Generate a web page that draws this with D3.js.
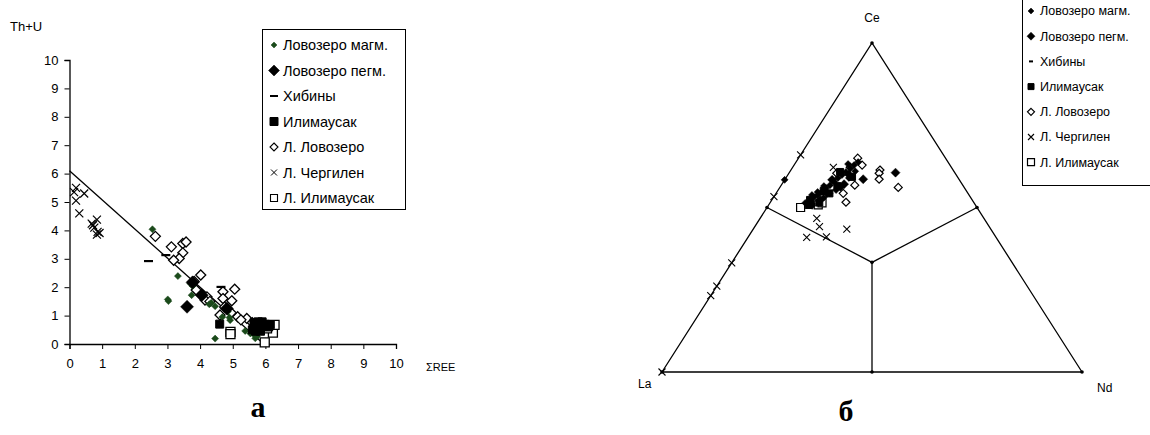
<!DOCTYPE html>
<html>
<head>
<meta charset="utf-8">
<script src="https://d3js.org/d3.v7.min.js"></script>
<style>
  body { margin: 0; background: #fff; }
  svg { display: block; font-family: "Liberation Sans", Arial, sans-serif; }
</style>
</head>
<body>
<svg id="chart" width="1150" height="435"></svg>
<script>
// ---------- data: left plot (ΣREE vs Th+U) ----------
const seriesNames = ["Ловозеро магм.", "Ловозеро пегм.", "Хибины", "Илимаусак",
                     "Л. Ловозеро", "Л. Чергилен", "Л. Илимаусак"];
const xTicks = [0,1,2,3,4,5,6,7,8,9,10];
const yTicks = [0,1,2,3,4,5,6,7,8,9,10];

const lovMagm = [[2.54,4.04],[3.32,2.39],[3.01,1.57],[3.03,1.51],[3.7,2.13],[3.77,2.04],[3.74,1.72],
  [4.03,1.72],[4.1,1.69],[4.28,1.4],[4.46,1.33],[4.34,1.45],[4.46,0.19],[4.9,0.93],[4.92,0.84],
  [4.85,1.14],[5.38,0.46],[5.64,0.34],[5.69,0.2],[5.74,0.26],[5.54,0.37],[4.68,0.95]];
const lovPegm = [[3.6,1.31],[3.77,2.17],[4.82,1.25],[5.69,0.61],[4.05,1.72]];
const hibiny = [[2.42,2.92],[2.95,3.13],[4.64,2.01]];
const ilim = [[4.6,0.7],[5.65,0.75],[5.7,0.65],[5.75,0.55],[5.8,0.72],[5.85,0.6],[5.9,0.68],
  [5.95,0.62],[6.0,0.7],[6.05,0.65],[6.1,0.6],[5.6,0.5],[5.7,0.45],[5.78,0.78],[5.9,0.78],
  [6.15,0.68],[5.85,0.45]];
const lLov = [[2.63,3.79],[3.12,3.42],[3.47,3.54],[3.57,3.59],[3.47,3.21],[3.36,3.01],[3.19,2.95],
  [4.02,2.43],[3.88,1.9],[4.21,1.66],[4.7,1.84],[5.06,1.93],[4.7,1.6],[4.97,1.52],[4.61,1.02],
  [5.15,0.96],[5.43,0.9],[3.82,2.2],[4.15,1.55],[4.3,1.5],[4.75,1.3],[4.95,1.1],[5.25,0.85],[5.6,0.75]];
const lCherg = [[0.2,5.5],[0.14,5.35],[0.45,5.3],[0.2,5.05],[0.3,4.6],[0.68,4.24],[0.84,4.38],
  [0.76,4.1],[0.86,3.95],[0.92,3.91],[0.84,3.85],[0.72,4.18]];
const lIlim = [[4.93,0.43],[4.93,0.35],[5.98,0.06],[6.23,0.4],[6.28,0.67],[5.94,0.61],[6.05,0.55]];
const trendLine = [[0,6.1],[5.9,0.05]];

// ---------- data: right plot (La - Ce - Nd, %) [La, Ce, Nd] ----------
const tMagm = [[40.2,51.4,8.4],[38.6,52.3,9.1],[37.2,53.2,9.6],[36.0,53.8,10.2],[34.6,54.7,10.7],
  [33.0,55.9,11.1],[31.6,56.8,11.6],[30.1,57.8,12.1],[28.6,59.0,12.4],[27.2,59.9,12.9],
  [25.8,60.8,13.4],[24.2,62.0,13.8],[22.8,62.9,14.3],[21.4,63.8,14.8],[41.6,58.4,0],
  [37.4,53.8,8.8],[35.6,54.7,9.7],[33.2,56.5,10.3],[30.3,58.4,11.3],[27.2,60.8,12.0],
  [24.1,63.2,12.7],[38.7,51.1,10.2],[32.7,53.8,12.6],[30.9,55.3,13.8],[28.1,57.1,14.8],
  [35.0,53.0,12.0],[29.5,56.0,14.5],[26.0,59.0,15.0],[23.5,61.0,15.5],[39.0,50.5,10.5]];
const tPegm = [[36.2,52.3,11.5],[28.1,57.1,14.8],[30.3,58.4,11.3],[22.8,58.6,18.6],[14.1,60.6,25.3],
  [33.5,54.5,12.0],[25.5,60.0,14.5]];
const tIlim = [[38.6,52.3,9.1],[25.1,59.3,15.6],[32.7,53.8,12.6],[27.2,60.8,12.0],[39.5,50.5,9.5],
  [34.0,55.0,11.0],[36.8,51.5,11.7],[30.0,56.5,13.5]];
const tLLov = [[24.1,62.2,13.7],[28.2,60.4,11.4],[17.4,61.4,21.2],[18.1,60.4,21.5],[19.0,58.6,22.4],
  [15.7,56.1,28.2],[30.4,51.6,18.0],[29.7,54.3,16.0],[20.9,65.0,14.1],[20.9,62.9,16.2],[25.7,56.8,17.5]];
const tLCherg = [[34,66,0],[46.7,53.3,0],[66.8,33.2,0],[73.9,26.1,0],[76.8,23.2,0],[100,0,0],
  [28.1,62.2,9.7],[39.8,46.7,13.5],[40.4,44.2,15.4],[34.3,43.4,22.3],[45.1,40.9,14.0],[40.3,41.1,18.6]];
const tLIlim = [[42.0,50.0,8.0],[37.4,50.8,11.8],[36.2,51.4,12.4]];
const ternaryGrid = [ // centroid to side midpoints
  [[33.33,33.33,33.33],[50,50,0]], [[33.33,33.33,33.33],[0,50,50]], [[33.33,33.33,33.33],[50,0,50]]];
const ternaryNodes = [[100,0,0],[0,100,0],[0,0,100],[50,50,0],[0,50,50],[50,0,50],[33.33,33.33,33.33]];
const vertexLabels = ["La","Ce","Nd"];

const svg = d3.select("#chart");

// marker shapes
function shape(type, s) {
  const h = s / 2;
  if (type === "diamond") return `M0,${-h}L${h},0L0,${h}L${-h},0Z`;
  if (type === "square") return `M${-h},${-h}H${h}V${h}H${-h}Z`;
  if (type === "cross") return `M${-h},${-h}L${h},${h}M${-h},${h}L${h},${-h}`;
  if (type === "dash") return `M${-h},0H${h}`;
  return "";
}
function drawMarks(g, data, pos, m) {
  g.append("g").selectAll("path").data(data).join("path")
    .attr("transform", d => { const p = pos(d); return `translate(${p[0]},${p[1]})`; })
    .attr("d", shape(m.type, m.size))
    .attr("fill", m.fill)
    .attr("stroke", m.stroke)
    .attr("stroke-width", m.sw);
}

// ================= LEFT PLOT =================
const x = d3.scaleLinear().domain([0,10]).range([69.5,396]);
const y = d3.scaleLinear().domain([0,10]).range([344,60]);
const left = svg.append("g");

left.append("g").attr("transform","translate(0,344)")
  .call(d3.axisBottom(x).tickValues(xTicks).tickSize(5).tickPadding(10).tickFormat(d3.format("d")))
  .call(g => g.select(".domain").attr("stroke","#000").attr("stroke-width",1.3))
  .call(g => g.selectAll("text").attr("font-size",13).attr("font-family","Liberation Sans, Arial"));
left.append("g").attr("transform","translate(69.5,0)")
  .call(d3.axisLeft(y).tickValues(yTicks).tickSize(5).tickPadding(6).tickFormat(d3.format("d")))
  .call(g => g.select(".domain").attr("stroke","#000").attr("stroke-width",1.3))
  .call(g => g.selectAll("text").attr("font-size",13).attr("font-family","Liberation Sans, Arial"));

left.append("line")
  .attr("x1", x(trendLine[0][0])).attr("y1", y(trendLine[0][1]))
  .attr("x2", x(trendLine[1][0])).attr("y2", y(trendLine[1][1]))
  .attr("stroke","#000").attr("stroke-width",1.3);

const pL = d => [x(d[0]), y(d[1])];
const leftStyles = [
  {type:"diamond", size:7, fill:"#1b4a1b", stroke:"#1b4a1b", sw:0.5},
  {type:"diamond", size:13, fill:"#000", stroke:"#000", sw:0.5},
  {type:"dash", size:9, fill:"none", stroke:"#000", sw:2.2},
  {type:"square", size:8, fill:"#000", stroke:"#000", sw:1},
  {type:"diamond", size:10, fill:"#fff", stroke:"#000", sw:1.3},
  {type:"cross", size:8, fill:"none", stroke:"#000", sw:1.2},
  {type:"square", size:9, fill:"#fff", stroke:"#000", sw:1.3}
];
const leftData = [lovMagm, lovPegm, hibiny, ilim, lLov, lCherg, lIlim];
[4,6,0,1,3,2,5].forEach(i => drawMarks(left, leftData[i], pL, leftStyles[i]));

left.append("text").attr("x",10).attr("y",31).attr("font-size",13).text("Th+U");
left.append("text").attr("x",426).attr("y",371).attr("font-size",11).text("ΣREE");

// legend left
const lg = left.append("g");
lg.append("rect").attr("x",262.5).attr("y",29.5).attr("width",143).attr("height",180)
  .attr("fill","#fff").attr("stroke","#000").attr("stroke-width",1);
const legStylesL = [
  {type:"diamond", size:6, fill:"#1b4a1b", stroke:"#1b4a1b", sw:0.5},
  {type:"diamond", size:11, fill:"#000", stroke:"#000", sw:0.5},
  {type:"dash", size:8, fill:"none", stroke:"#000", sw:2},
  {type:"square", size:8, fill:"#000", stroke:"#000", sw:1},
  {type:"diamond", size:8, fill:"#fff", stroke:"#000", sw:1.1},
  {type:"cross", size:6, fill:"none", stroke:"#000", sw:1},
  {type:"square", size:7, fill:"#fff", stroke:"#000", sw:1.1}
];
seriesNames.forEach((n, i) => {
  const yy = 45 + i * 25.5;
  const st = legStylesL[i];
  lg.append("path").attr("transform",`translate(274,${yy})`).attr("d", shape(st.type, st.size))
    .attr("fill", st.fill).attr("stroke", st.stroke).attr("stroke-width", st.sw);
  lg.append("text").attr("x",283).attr("y",yy).attr("dy","0.35em").attr("font-size",14.5).text(n);
});

svg.append("text").attr("x",258).attr("y",417).attr("text-anchor","middle")
  .attr("font-family","Liberation Serif, Times New Roman, serif").attr("font-weight","bold")
  .attr("font-size",30).text("а");

// ================= RIGHT PLOT (ternary) =================
const tx = d3.scaleLinear().domain([0,100]).range([662,1082]);
const ty = d3.scaleLinear().domain([0,100]).range([372,43]);
const pT = d => { const s = d[0]+d[1]+d[2]; const ce = d[1]/s*100, nd = d[2]/s*100;
  return [tx(nd + ce/2), ty(ce)]; };
const right = svg.append("g");

right.append("path")
  .attr("d", d3.line()([pT([100,0,0]), pT([0,100,0]), pT([0,0,100])]) + "Z")
  .attr("fill","none").attr("stroke","#000").attr("stroke-width",1.3);
ternaryGrid.forEach(seg => {
  right.append("line").attr("x1",pT(seg[0])[0]).attr("y1",pT(seg[0])[1])
    .attr("x2",pT(seg[1])[0]).attr("y2",pT(seg[1])[1])
    .attr("stroke","#000").attr("stroke-width",1.3);
});
right.append("g").selectAll("circle").data(ternaryNodes).join("circle")
  .attr("cx", d => pT(d)[0]).attr("cy", d => pT(d)[1]).attr("r",1.8).attr("fill","#000");

const rightStyles = [
  {type:"diamond", size:7, fill:"#000", stroke:"#000", sw:0.5},
  {type:"diamond", size:9, fill:"#000", stroke:"#000", sw:0.5},
  {type:"dash", size:5, fill:"none", stroke:"#000", sw:2},
  {type:"square", size:7, fill:"#000", stroke:"#000", sw:1},
  {type:"diamond", size:8, fill:"#fff", stroke:"#000", sw:1.2},
  {type:"cross", size:7, fill:"none", stroke:"#000", sw:1.1},
  {type:"square", size:8, fill:"#fff", stroke:"#000", sw:1.2}
];
const rightData = [tMagm, tPegm, [], tIlim, tLLov, tLCherg, tLIlim];
[4,6,5,0,1,3].forEach(i => drawMarks(right, rightData[i], pT, rightStyles[i]));

right.append("text").attr("x",872).attr("y",22).attr("text-anchor","middle").attr("font-size",12).text(vertexLabels[1]);
right.append("text").attr("x",638).attr("y",388).attr("font-size",12).text(vertexLabels[0]);
right.append("text").attr("x",1097).attr("y",392).attr("font-size",12).text(vertexLabels[2]);

// legend right
const rg = right.append("g");
rg.append("rect").attr("x",1022.5).attr("y",-5).attr("width",140).attr("height",190.5)
  .attr("fill","#fff").attr("stroke","#000").attr("stroke-width",1);
seriesNames.forEach((n, i) => {
  const yy = 11 + i * 25.2;
  const st = rightStyles[i];
  const sz = i === 2 ? 4 : st.size - 1;
  rg.append("path").attr("transform",`translate(1031,${yy})`).attr("d", shape(st.type, sz))
    .attr("fill", st.fill).attr("stroke", st.stroke).attr("stroke-width", st.sw);
  rg.append("text").attr("x",1040).attr("y",yy).attr("dy","0.35em").attr("font-size",12.5).text(n);
});

svg.append("text").attr("x",846).attr("y",421).attr("text-anchor","middle")
  .attr("font-family","Liberation Serif, Times New Roman, serif").attr("font-weight","bold")
  .attr("font-size",30).text("б");
</script>
</body>
</html>
